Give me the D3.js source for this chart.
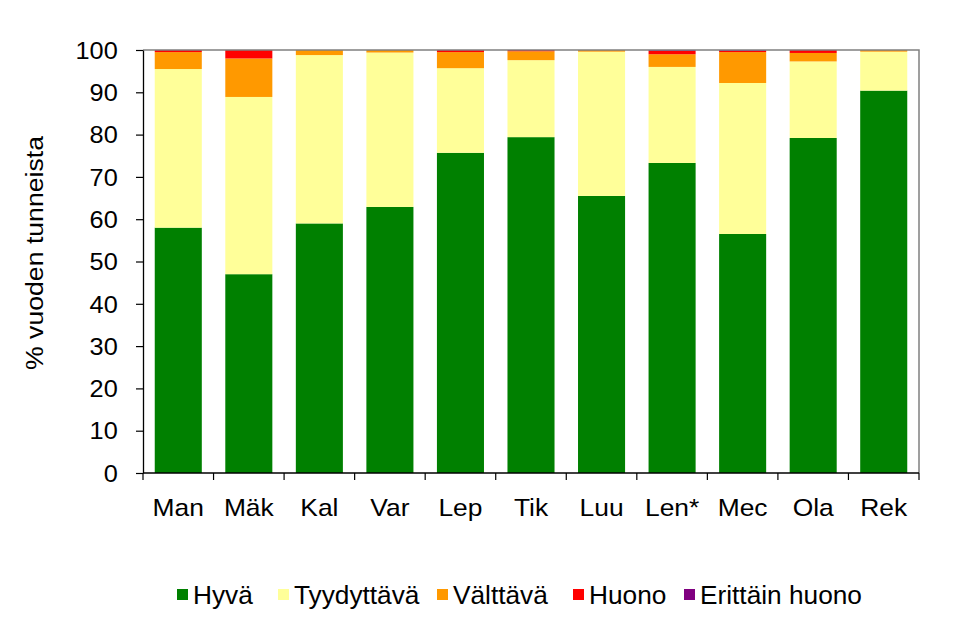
<!DOCTYPE html>
<html><head><meta charset="utf-8">
<script src="https://cdn.jsdelivr.net/npm/d3@7"></script>
<style>body{margin:0;background:#fff}svg{display:block}text{font-family:"Liberation Sans",Arial,sans-serif;fill:#000}</style>
</head><body><svg id="c" width="960" height="639"></svg>
<script>
const categories = ["Man","Mäk","Kal","Var","Lep","Tik","Luu","Len*","Mec","Ola","Rek"];
const seriesNames = ["Hyvä","Tyydyttävä","Välttävä","Huono","Erittäin huono"];
const hyva      = [58.0, 47.0, 59.0, 62.9, 75.7, 79.4, 65.5, 73.3, 56.5, 79.2, 90.4];
const tyydyttava= [37.5, 41.9, 39.8, 36.5, 20.0, 18.2, 34.1, 22.7, 35.7, 18.1,  9.2];
const valttava  = [ 4.0,  9.1,  1.2,  0.6,  3.8,  2.1,  0.4,  3.0,  7.3,  2.0,  0.4];
const huono     = [ 0.5,  2.0,  0.0,  0.0,  0.5,  0.3,  0.0,  0.8,  0.3,  0.7,  0.0];
const erittain  = [ 0.0,  0.0,  0.0,  0.0,  0.0,  0.0,  0.0,  0.2,  0.2,  0.0,  0.0];
const yTicks = [0,10,20,30,40,50,60,70,80,90,100];
const colors = ["#008000","#ffff99","#ff9900","#ff0000","#800080"];

const seriesVals = [hyva, tyydyttava, valttava, huono, erittain];
const rows = categories.map((c,i)=>{const r={cat:c}; seriesNames.forEach((s,j)=>r[s]=seriesVals[j][i]); return r;});
const stack = d3.stack().keys(seriesNames)(rows);

const svg = d3.select("#c");
const L=143, R=919, T=50, B=473;
const x = d3.scaleBand().domain(categories).range([L,R]).paddingInner(0.333).paddingOuter(0.1665);
const y = d3.scaleLinear().domain([0,100]).range([B,T]);

stack.forEach((s,j)=>{
  svg.append("g").selectAll("rect").data(s).enter().append("rect")
    .attr("x",d=>x(d.data.cat)).attr("width",x.bandwidth())
    .attr("y",d=>y(d[1])).attr("height",d=>Math.max(0,y(d[0])-y(d[1])))
    .attr("fill",colors[j]);
});

// plot frame top/right
svg.append("path").attr("d",`M${L},${T}H${R}V${B}`).attr("fill","none").attr("stroke","#808080").attr("stroke-width",1.5);

// y axis
const ya = svg.append("g").attr("transform",`translate(${L},0)`)
  .call(d3.axisLeft(y).tickValues(yTicks).tickSize(7).tickSizeOuter(0));
ya.select(".domain").attr("stroke","#000").attr("stroke-width",1.3);
ya.selectAll(".tick line").attr("stroke","#000").attr("stroke-width",1.2);
ya.selectAll(".tick text").style("font-size","23px").attr("dy","0.36em")
  .attr("transform","scale(1.1,1)").attr("x",-23);

// x axis with ticks at category boundaries
const xa = svg.append("g").attr("transform",`translate(0,${B})`);
xa.append("line").attr("x1",L).attr("x2",R).attr("stroke","#000").attr("stroke-width",1.3);
const bounds = categories.map((c,i)=> i===0 ? L : x(c) - x.step()*x.paddingInner()/2).concat([R]);
xa.selectAll("line.t").data(bounds).enter().append("line").attr("class","t")
  .attr("x1",d=>d).attr("x2",d=>d).attr("y1",0).attr("y2",7).attr("stroke","#000").attr("stroke-width",1.2);
xa.selectAll("g.lab").data(categories).enter().append("g").attr("class","lab")
  .attr("transform",d=>`translate(${x(d)+x.bandwidth()/2},43)`)
  .append("text").attr("text-anchor","middle").style("font-size","24px")
  .attr("transform","scale(1.1,1)").text(d=>d);

// y title
svg.append("text").attr("transform","translate(43,253) rotate(-90) scale(1.11,1)")
  .attr("text-anchor","middle").style("font-size","24px").text("% vuoden tunneista");

// legend
const legX = [177,278,437,573,684];
const lg = svg.append("g").selectAll("g").data(seriesNames).enter().append("g")
  .attr("transform",(d,i)=>`translate(${legX[i]},595)`);
lg.append("rect").attr("x",0).attr("y",-6).attr("width",11).attr("height",11).attr("fill",(d,i)=>colors[i]);
lg.append("text").attr("x",16/1.05).attr("dy","0.36em").style("font-size","25px")
  .attr("transform","scale(1.05,1)").text(d=>d);
</script></body></html>
